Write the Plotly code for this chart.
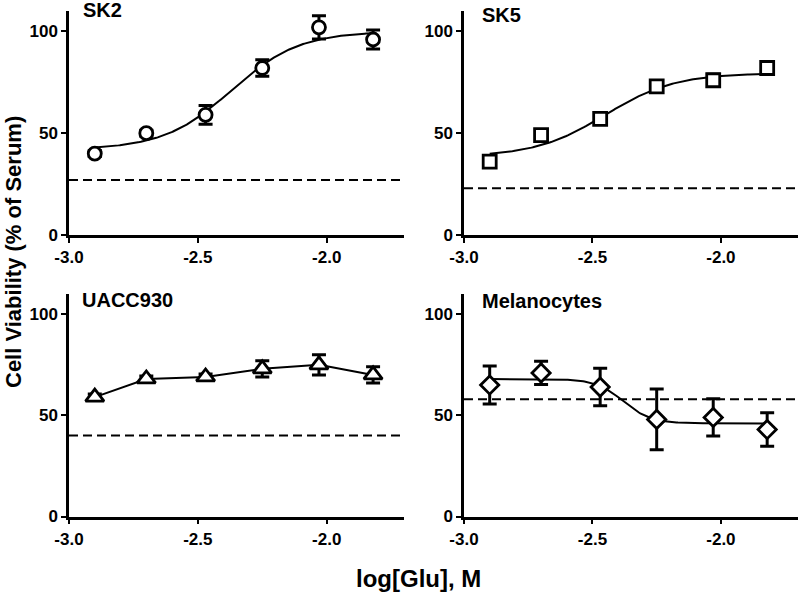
import numpy as np
import plotly.graph_objects as go

# ---------------- data ----------------
log_glu = [-2.90, -2.70, -2.47, -2.25, -2.03, -1.82]

panel_names = ["SK2", "SK5", "UACC930", "Melanocytes"]

sk2_mean = [40, 50, 59, 82, 102, 96]
sk2_err = [1.5, 1.5, 4.6, 4.0, 5.7, 4.7]
sk2_serum = 27

sk5_mean = [36, 49, 57, 73, 76, 82]
sk5_err = [1.5, 1.5, 1.5, 1.5, 3.0, 1.5]
sk5_serum = 23

uacc_mean = [59, 68, 69, 73, 75, 70]
uacc_err = [1.5, 1.5, 1.5, 4.0, 5.0, 4.0]
uacc_serum = 40

mel_mean = [65, 71, 64, 48, 49, 43]
mel_err = [9.4, 5.8, 9.3, 15.0, 9.2, 8.3]
mel_serum = 58

# 4-parameter logistic fit parameters: bottom, top, logEC50, hill
sk2_fit = [42, 100, -2.37, 3.3]
sk5_fit = [38.5, 79.5, -2.45, 3.2]
mel_fit = [46, 68, -2.38, -8.0]

x_tick_vals = [-3.0, -2.5, -2.0]
x_tick_text = ["-3.0", "-2.5", "-2.0"]
y_tick_vals = [0, 50, 100]
y_tick_text = ["0", "50", "100"]
x_range = [-3.0, -1.7]
y_range = [0, 110]

# ---------------- figure ----------------
W, H = 800, 594
FONT = "Liberation Sans, Arial, Helvetica, sans-serif"

def px_x(p):
    return p / W

def px_y(p):
    return 1 - p / H

domains = {
    1: dict(x=[px_x(69), px_x(404)], y=[px_y(235), px_y(11)]),
    2: dict(x=[px_x(464), px_x(798)], y=[px_y(235), px_y(11)]),
    3: dict(x=[px_x(69), px_x(404)], y=[px_y(516.5), px_y(294)]),
    4: dict(x=[px_x(464), px_x(798)], y=[px_y(516.5), px_y(294)]),
}

fig = go.Figure()

def logistic(params, xs):
    b, t, ec, h = params
    xs = np.asarray(xs)
    return b + (t - b) / (1 + 10 ** ((ec - xs) * h))

def add_panel(i, means, errs, serum, symbol, size, fit=None):
    xa = "x" if i == 1 else f"x{i}"
    ya = "y" if i == 1 else f"y{i}"
    # dashed serum reference
    fig.add_trace(go.Scatter(
        x=x_range, y=[serum, serum], mode="lines",
        line=dict(color="black", width=2, dash="9px,5px"),
        xaxis=xa, yaxis=ya, showlegend=False, hoverinfo="skip"))
    # curve
    if fit is not None:
        xs = np.linspace(log_glu[0], log_glu[-1], 200)
        ys = logistic(fit, xs)
        fig.add_trace(go.Scatter(
            x=xs, y=ys, mode="lines", line=dict(color="black", width=2),
            xaxis=xa, yaxis=ya, showlegend=False, hoverinfo="skip"))
    else:
        fig.add_trace(go.Scatter(
            x=log_glu, y=means, mode="lines", line=dict(color="black", width=2),
            xaxis=xa, yaxis=ya, showlegend=False, hoverinfo="skip"))
    # points with error bars
    fig.add_trace(go.Scatter(
        x=log_glu, y=means, mode="markers",
        marker=dict(symbol=symbol, size=size, color="white",
                    line=dict(color="black", width=2.8)),
        error_y=dict(type="data", array=errs, visible=True,
                     color="black", thickness=3, width=7),
        xaxis=xa, yaxis=ya, showlegend=False))

add_panel(1, sk2_mean, sk2_err, sk2_serum, "circle", 13, sk2_fit)
add_panel(2, sk5_mean, sk5_err, sk5_serum, "square", 13, sk5_fit)
add_panel(3, uacc_mean, uacc_err, uacc_serum, "triangle-up", 16, None)
add_panel(4, mel_mean, mel_err, mel_serum, "diamond", 14, mel_fit)

axis_common = dict(showgrid=False, zeroline=False, showline=True,
                   linecolor="black", linewidth=2.5, ticks="outside",
                   ticklen=5, tickwidth=2, tickcolor="black", automargin=False,
                   tickfont=dict(family=FONT, size=17, color="black", weight="bold"))

layout = dict(
    width=W, height=H,
    margin=dict(l=0, r=0, t=0, b=0, autoexpand=False),
    paper_bgcolor="white", plot_bgcolor="white",
    showlegend=False,
)
for i in range(1, 5):
    xk = "xaxis" if i == 1 else f"xaxis{i}"
    yk = "yaxis" if i == 1 else f"yaxis{i}"
    ya_name = "y" if i == 1 else f"y{i}"
    xa_name = "x" if i == 1 else f"x{i}"
    layout[xk] = dict(axis_common, domain=domains[i]["x"], range=x_range,
                      tickvals=x_tick_vals, ticktext=x_tick_text,
                      anchor=ya_name)
    layout[yk] = dict(axis_common, domain=domains[i]["y"], range=y_range,
                      tickvals=y_tick_vals, ticktext=y_tick_text,
                      anchor=xa_name)
fig.update_layout(**layout)

title_pos = [(81, 10.5), (480, 15), (80, 300.5), (480, 301)]
for name, (tx, ty) in zip(panel_names, title_pos):
    fig.add_annotation(text=name, x=px_x(tx), y=px_y(ty), xref="paper", yref="paper",
                       xanchor="left", yanchor="middle", showarrow=False,
                       font=dict(family=FONT, size=20, color="black", weight="bold"))

fig.add_annotation(text="Cell Viability (% of Serum)", x=px_x(13), y=px_y(252),
                   xref="paper", yref="paper", xanchor="center", yanchor="middle",
                   textangle=-90, showarrow=False,
                   font=dict(family=FONT, size=22, color="black", weight="bold"))
fig.add_annotation(text="log[Glu], M", x=px_x(418.5), y=px_y(578),
                   xref="paper", yref="paper", xanchor="center", yanchor="middle",
                   showarrow=False,
                   font=dict(family=FONT, size=24, color="black", weight="bold"))

fig.write_html("out.html",
               config={"displayModeBar": False},
               post_script="document.body.style.margin='0px';"
                           "document.body.style.overflow='hidden';")
